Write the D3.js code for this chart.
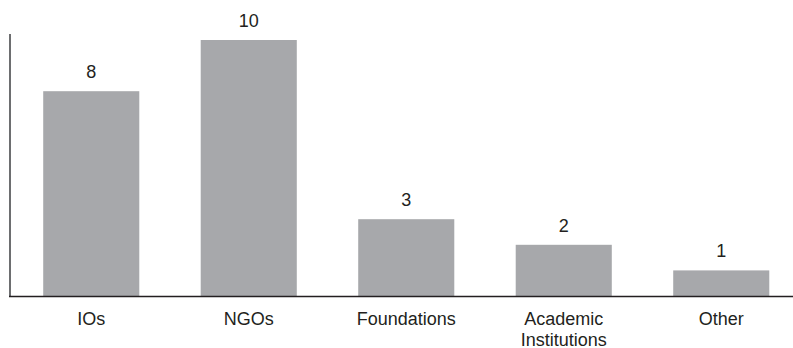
<!DOCTYPE html>
<html>
<head>
<meta charset="utf-8">
<script src="https://cdn.jsdelivr.net/npm/d3@7"></script>
<style>
  html, body { margin: 0; padding: 0; background: #fff; }
  svg { display: block; }
  text { font-family: "Liberation Sans", Arial, Helvetica, sans-serif; fill: #231f20; }
</style>
</head>
<body>
<svg id="chart" width="793" height="348"></svg>
<script>
// Number of organisations by type
const categories = ["IOs", "NGOs", "Foundations", "Academic Institutions", "Other"];
const counts = [8, 10, 3, 2, 1];
const labelLines = [["IOs"], ["NGOs"], ["Foundations"], ["Academic", "Institutions"], ["Other"]];

const W = 793, H = 348;
const baseY = 296, topY = 40, leftX = 10;

const svg = d3.select("#chart");

const x = d3.scaleBand()
  .domain(categories)
  .range([12.5, 800])
  .paddingInner(0.39)
  .paddingOuter(0.195);

const y = d3.scaleLinear()
  .domain([0, 10])
  .range([baseY, topY]);

// bars
svg.append("g")
  .selectAll("rect")
  .data(categories)
  .join("rect")
  .attr("x", d => x(d))
  .attr("width", x.bandwidth())
  .attr("y", (d, i) => y(counts[i]))
  .attr("height", (d, i) => baseY - y(counts[i]))
  .attr("fill", "#a7a8ab");

// value labels above bars
svg.append("g")
  .selectAll("text")
  .data(categories)
  .join("text")
  .attr("x", d => x(d) + x.bandwidth() / 2)
  .attr("y", (d, i) => y(counts[i]) - 13)
  .attr("text-anchor", "middle")
  .attr("font-size", 18)
  .text((d, i) => counts[i]);

// vertical axis line
svg.append("line")
  .attr("x1", leftX).attr("x2", leftX)
  .attr("y1", 34).attr("y2", baseY + 1)
  .attr("stroke", "#6d6e70")
  .attr("stroke-width", 2);

// baseline
svg.append("line")
  .attr("x1", leftX - 1).attr("x2", W)
  .attr("y1", baseY + 0.5).attr("y2", baseY + 0.5)
  .attr("stroke", "#231f20")
  .attr("stroke-width", 1.6);

// category labels
const cat = svg.append("g")
  .selectAll("text")
  .data(categories)
  .join("text")
  .attr("x", d => x(d) + x.bandwidth() / 2)
  .attr("y", 324.5)
  .attr("text-anchor", "middle")
  .attr("font-size", 18);

cat.each(function(d, i) {
  const t = d3.select(this);
  labelLines[i].forEach((line, j) => {
    t.append("tspan")
      .attr("x", x(d) + x.bandwidth() / 2)
      .attr("dy", j === 0 ? 0 : 21)
      .text(line);
  });
});
</script>
</body>
</html>
